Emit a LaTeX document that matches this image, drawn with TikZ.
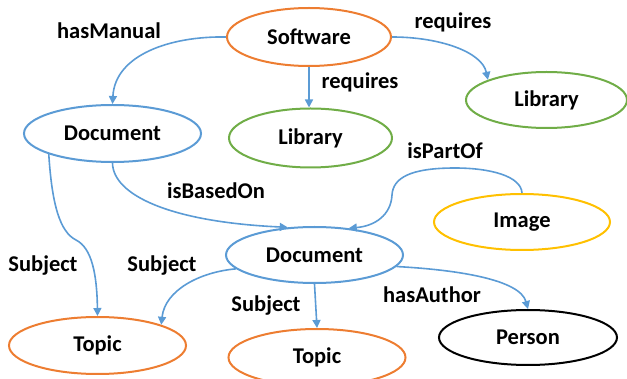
\documentclass[tikz,border=0pt]{standalone}
\usepackage{fontspec}
\setmainfont{Carlito}
\usepackage{tikz}
\usetikzlibrary{arrows.meta,shapes.geometric}
\usepackage{xcolor}
\definecolor{officeorange}{HTML}{ED7D31}
\definecolor{officegreen}{HTML}{70AD47}
\definecolor{officeblue}{HTML}{5B9BD5}
\definecolor{officeyellow}{HTML}{FFC000}

\begin{document}
\begin{tikzpicture}[x=1pt, y=-1pt,
    every node/.style={font=\fontsize{22.5}{27}\selectfont\bfseries},
    thing/.style={ellipse, draw=#1, line width=2pt, inner sep=0pt,
                  minimum width=177pt, minimum height=57pt},
    rel/.style={draw=officeblue, line width=1.6pt,
                -{Triangle[length=8pt,width=8pt]}}]
    \useasboundingbox (0,0) rectangle (627,379);

    \node[thing=officeorange, minimum width=164pt, minimum height=58pt] (software) at (309,37) {Software};
    \node[thing=officegreen, minimum width=163pt, minimum height=59pt] (libA) at (310.5,138) {Library};
    \node[thing=officegreen, minimum width=161pt, minimum height=56pt] (libB) at (546.5,100) {Library};
    \node[thing=officeblue] (docA) at (112.5,133.5) {Document};
    \node[thing=officeblue, minimum height=56pt] (docB) at (314.5,255) {Document};
    \node[thing=officeyellow, minimum width=176pt, minimum height=56pt] (image) at (522,222) {Image};
    \node[thing=officeorange] (topicA) at (97.5,345.5) {Topic};
    \node[thing=officeorange] (topicB) at (317,357.5) {Topic};
    \node[thing=black, minimum width=178pt, minimum height=55pt] (person) at (528,337.5) {Person};

    \draw[rel] (software.west) .. controls (170,36) and (115,55) .. (docA.north);
    \draw[rel] (software.south) -- (software.south |- libA.north);
    \draw[rel] (software.east) .. controls (440,37) and (482,52) .. (libB.161);
    \draw[rel] (docA.198) .. controls (52,205) and (60,232) .. (76,240)
        .. controls (92,248) and (97,275) .. (topicA.north);
    \draw[rel] (docA.south) .. controls (113,195) and (170,222) .. (docB.134);
    \draw[rel] (image.north) .. controls (521,176) and (490,168) .. (455,168)
        .. controls (410,168) and (393,178) .. (392,195)
        .. controls (391,215) and (375,226) .. (docB.38);
    \draw[rel] (docB.190) .. controls (200,272) and (165,290) .. (topicA.18);
    \draw[rel] (docB.south) -- (topicB.north);
    \draw[rel] (docB.-8) .. controls (460,270) and (520,280) .. (person.north);

    \node (hasManual) at (109,31) {hasManual};
    \node (reqB) at (453,22) {requires};
    \node (reqA) at (360,82) {requires};
    \node (basedOn) at (216,191) {isBasedOn};
    \node (partOf) at (445,151) {isPartOf};
    \node (subjA) at (43,266) {Subject};
    \node (subjB) at (162,266) {Subject};
    \node (subjC) at (266,306) {Subject};
    \node (author) at (432,295) {hasAuthor};
\end{tikzpicture}
\end{document}
